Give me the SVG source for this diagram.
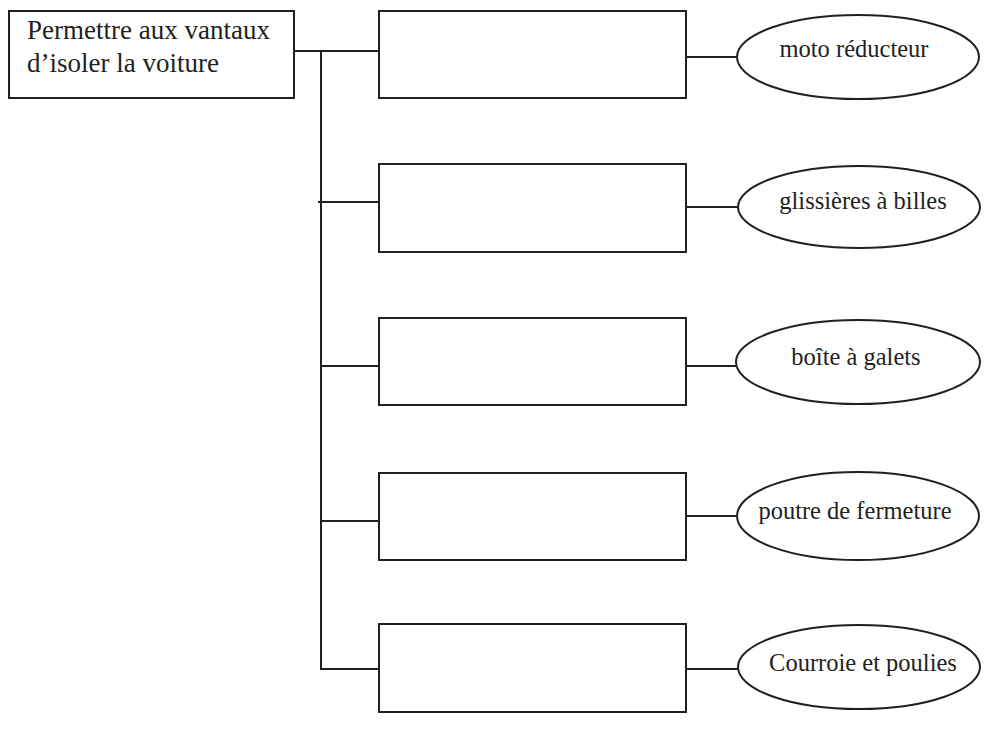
<svg xmlns="http://www.w3.org/2000/svg" width="1008" height="737" viewBox="0 0 1008 737">
<style>
.b{fill:#fff;stroke:#231f20;stroke-width:2}
.c{fill:none;stroke:#231f20;stroke-width:2}
.t{font-family:"Liberation Serif","Times New Roman",serif;font-size:24.5px;fill:#231f20}
.m{text-anchor:middle}
.r{font-size:27px}
</style>
<rect width="1008" height="737" fill="#fff"/>
<g id="connectors">
<line class="c" x1="294" y1="51" x2="379" y2="51"/>
<line class="c" x1="321" y1="50" x2="321" y2="670"/>
<line class="c" x1="318" y1="202" x2="379" y2="202"/>
<line class="c" x1="321" y1="366" x2="379" y2="366"/>
<line class="c" x1="321" y1="521" x2="379" y2="521"/>
<line class="c" x1="320" y1="669" x2="379" y2="669"/>
<line class="c" x1="686" y1="57" x2="737" y2="57"/>
<line class="c" x1="686" y1="207" x2="738" y2="207"/>
<line class="c" x1="686" y1="366" x2="737" y2="366"/>
<line class="c" x1="686" y1="516" x2="737" y2="516"/>
<line class="c" x1="686" y1="669" x2="738" y2="669"/>
</g>
<g id="root">
<rect class="b" x="9" y="11" width="285" height="87"/>
<text class="t r" x="27" y="39">Permettre aux vantaux</text>
<text class="t r" x="27" y="72">d’isoler la voiture</text>
</g>
<g id="box1"><rect class="b" x="379" y="11" width="307" height="87"/></g>
<g id="box2"><rect class="b" x="379" y="164" width="307" height="88"/></g>
<g id="box3"><rect class="b" x="379" y="318" width="307" height="87"/></g>
<g id="box4"><rect class="b" x="379" y="473" width="307" height="87"/></g>
<g id="box5"><rect class="b" x="379" y="624" width="307" height="88"/></g>
<g id="e1"><ellipse class="b" cx="858" cy="57" rx="121" ry="42"/><text class="t m" x="854" y="57">moto réducteur</text></g>
<g id="e2"><ellipse class="b" cx="859" cy="207" rx="121" ry="41"/><text class="t m" x="863" y="209">glissières à billes</text></g>
<g id="e3"><ellipse class="b" cx="858" cy="362" rx="122" ry="42"/><text class="t m" x="856" y="365">boîte à galets</text></g>
<g id="e4"><ellipse class="b" cx="858" cy="516" rx="121" ry="44"/><text class="t m" x="855" y="519">poutre de fermeture</text></g>
<g id="e5"><ellipse class="b" cx="859" cy="667" rx="121" ry="42"/><text class="t m" x="863" y="671">Courroie et poulies</text></g>
</svg>
